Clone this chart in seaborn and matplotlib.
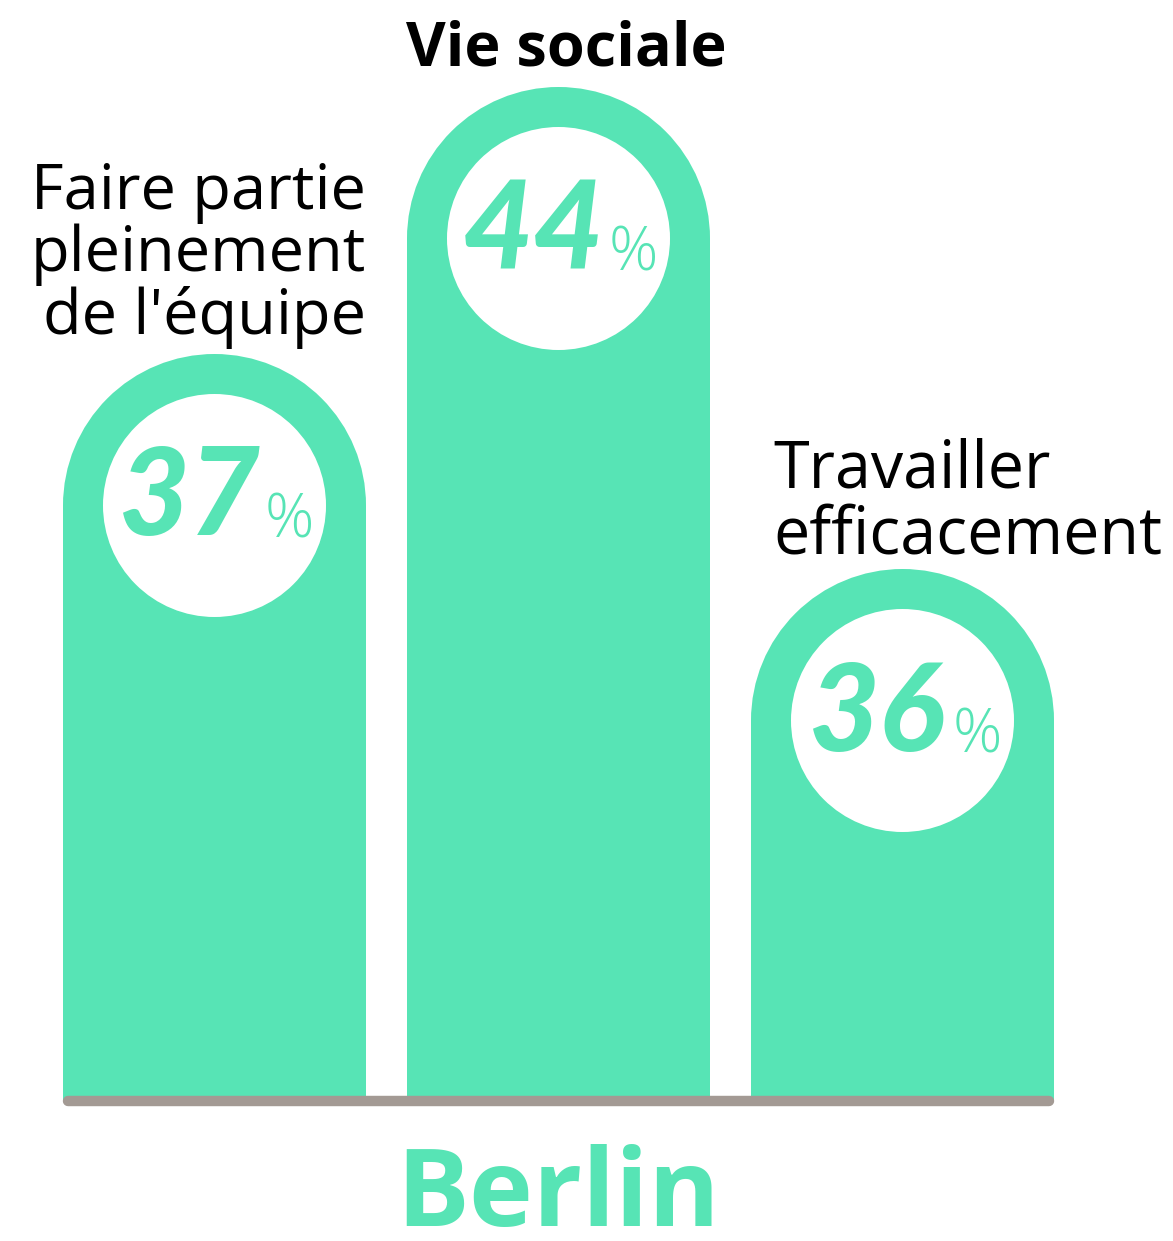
import matplotlib
matplotlib.use("Agg")
import matplotlib.pyplot as plt
from matplotlib.patches import Ellipse
import seaborn as sns
import pandas as pd

# data
categories = ["Faire partie\npleinement\nde l'équipe", "Vie sociale", "Travailler\nefficacement"]
values = [37, 44, 36]                 # percentages shown in the circles
heights = [746, 1013, 531]            # drawn bar heights (px above baseline, incl. rounded cap)
city = "Berlin"

green = "#57e4b5"
grey = "#a39a94"

sns.set_theme(style="white")
plt.rcParams["font.family"] = ["Open Sans", "DejaVu Sans"]

fig = plt.figure(figsize=(11.73, 12.41), dpi=100)
ax = fig.add_axes([0, 0, 1, 1])

W, H = 1173, 1241
base = 1100          # baseline pixel row
r = 151.5            # cap radius px
px = 344.0           # px per category step
x0 = 214.5           # pixel column of first category

df = pd.DataFrame({"cat": categories, "h": [h - r for h in heights], "v": values})
sns.barplot(data=df, x="cat", y="h", color=green, width=303 / px,
            saturation=1, ax=ax, edgecolor="none", linewidth=0)
ax.set_xlim(-x0 / px, (W - x0) / px)
ax.set_ylim(-(H - base), base)
ax.axis("off")

for i, (h, v) in enumerate(zip(heights, values)):
    cy = h - r
    ax.add_patch(Ellipse((i, cy), 2 * r / px, 2 * r, color=green, lw=0))
    ax.add_patch(Ellipse((i, cy), 223 / px, 223, color="white", lw=0))
    ax.text(i - 25 / px, cy - 30, str(v), ha="center", va="baseline",
            fontsize=88, fontweight="black", style="italic", family="Lato", color=green)
    ax.text(i + 75 / px, cy - 32, "%", ha="center", va="baseline",
            fontsize=44, fontweight="light", family="Open Sans", color=green)

# category labels
ax.text((366 - x0) / px, base - 161, categories[0], ha="right", va="top",
        fontsize=45.5, color="black", linespacing=1.0)
ax.text(1.0 + 8 / px, base - 20, categories[1], ha="center", va="top",
        fontsize=44, fontweight="bold", color="black")
ax.text((773 - x0) / px, base - 437, categories[2], ha="left", va="top",
        fontsize=46.5, color="black", linespacing=1.0)

# baseline
ax.plot([(68 - x0) / px, (1049 - x0) / px], [-1, -1],
        color=grey, lw=7.5, solid_capstyle="round")

ax.text(1.0, -(1226 - base), city, ha="center", va="baseline",
        fontsize=78, fontweight="bold", family="Open Sans", color=green)

fig.savefig("out.png", dpi=100)
